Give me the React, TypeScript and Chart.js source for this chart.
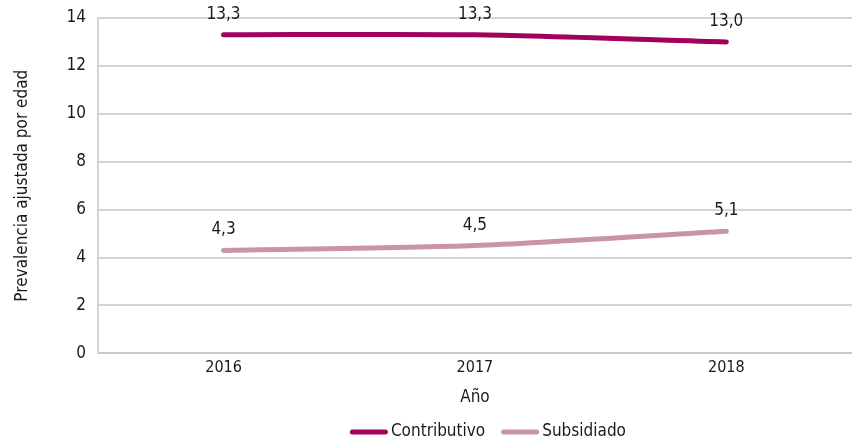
import React, { useEffect, useRef } from "react";
import { Chart, registerables } from "chart.js";

Chart.register(...registerables);

const years = ["2016", "2017", "2018"];
const contributivo = [13.3, 13.3, 13.0];
const subsidiado = [4.3, 4.5, 5.1];
const seriesNames = ["Contributivo", "Subsidiado"];
const yTicks = [0, 2, 4, 6, 8, 10, 12, 14];

const FONT = "'DejaVu Sans Condensed', 'Liberation Sans Narrow', sans-serif";

const labelPlugin = {
  id: "valueLabels",
  afterDatasetsDraw(chart: any) {
    const ctx = chart.ctx;
    ctx.save();
    ctx.font = `17px ${FONT}`;
    ctx.fillStyle = "#1a1a1a";
    ctx.textAlign = "center";
    ctx.textBaseline = "bottom";
    chart.data.datasets.forEach((ds: any, i: number) => {
      const meta = chart.getDatasetMeta(i);
      meta.data.forEach((pt: any, j: number) => {
        const v = ds.data[j] as number;
        ctx.fillText(v.toFixed(1).replace(".", ","), pt.x, pt.y - 12);
      });
    });
    ctx.restore();
  },
};

const legendPlugin = {
  id: "lineLegend",
  afterDraw(chart: any) {
    const ctx = chart.ctx;
    ctx.save();
    ctx.font = `17px ${FONT}`;
    ctx.textBaseline = "middle";
    ctx.textAlign = "left";
    const boxW = 38;
    const gapText = 3;
    const gapItem = 16;
    const items = chart.data.datasets.map((ds: any) => ({
      label: ds.label,
      color: ds.borderColor,
      w: boxW + gapText + ctx.measureText(ds.label).width,
    }));
    const total = items.reduce((s: number, it: any) => s + it.w, 0) + gapItem * (items.length - 1);
    const ca = chart.chartArea;
    let x = (ca.left + ca.right) / 2 + 13 - total / 2;
    const y = chart.height - 10;
    items.forEach((it: any) => {
      ctx.strokeStyle = it.color;
      ctx.lineWidth = 5;
      ctx.lineCap = "round";
      ctx.beginPath();
      ctx.moveTo(x + 2.5, y);
      ctx.lineTo(x + boxW - 2.5, y);
      ctx.stroke();
      ctx.fillStyle = "#1a1a1a";
      ctx.fillText(it.label, x + boxW + gapText, y);
      x += it.w + gapItem;
    });
    ctx.restore();
  },
};

export default function App() {
  const ref = useRef<HTMLCanvasElement>(null);
  useEffect(() => {
    document.body.style.margin = "0";
    const chart = new Chart(ref.current!, {
      type: "line",
      data: {
        labels: years,
        datasets: [
          {
            label: seriesNames[0],
            data: contributivo,
            borderColor: "#a1005d",
            backgroundColor: "#a1005d",
            borderWidth: 5,
            pointRadius: 0,
            borderCapStyle: "round",
            tension: 0.25,
          },
          {
            label: seriesNames[1],
            data: subsidiado,
            borderColor: "#c994a9",
            backgroundColor: "#c994a9",
            borderWidth: 5,
            pointRadius: 0,
            borderCapStyle: "round",
            tension: 0.25,
          },
        ],
      },
      options: {
        animation: false,
        responsive: false,
        layout: { padding: { top: 18, right: 0, left: 12, bottom: 34 } },
        plugins: {
          legend: { display: false },
          tooltip: { enabled: false },
        },
        scales: {
          x: {
            offset: true,
            grid: { display: false, drawTicks: false },
            border: { display: true, color: "#c8c8c8", width: 2 },
            ticks: { font: { family: FONT, size: 16 }, color: "#1a1a1a", padding: 5 },
            title: {
              display: true,
              text: "Año",
              font: { family: FONT, size: 17 },
              color: "#1a1a1a",
              padding: { top: 5, bottom: 0 },
            },
          },
          y: {
            min: 0,
            max: 14,
            afterBuildTicks: (axis: any) => {
              axis.ticks = yTicks.map((v) => ({ value: v }));
            },
            afterFit: (axis: any) => {
              axis.paddingTop = 0;
              axis.paddingBottom = 0;
            },
            grid: { color: "#d4d4d4", lineWidth: 2, drawTicks: false },
            border: { display: true, color: "#d4d4d4", width: 2 },
            ticks: { font: { family: FONT, size: 17 }, color: "#1a1a1a", padding: 12 },
            title: {
              display: true,
              text: "Prevalencia ajustada por edad",
              font: { family: FONT, size: 17 },
              color: "#1a1a1a",
              padding: { top: 0, bottom: 22 },
            },
          },
        },
      },
      plugins: [labelPlugin, legendPlugin],
    });
    return () => chart.destroy();
  }, []);
  return <canvas ref={ref} width={852} height={442} style={{ display: "block" }} />;
}
